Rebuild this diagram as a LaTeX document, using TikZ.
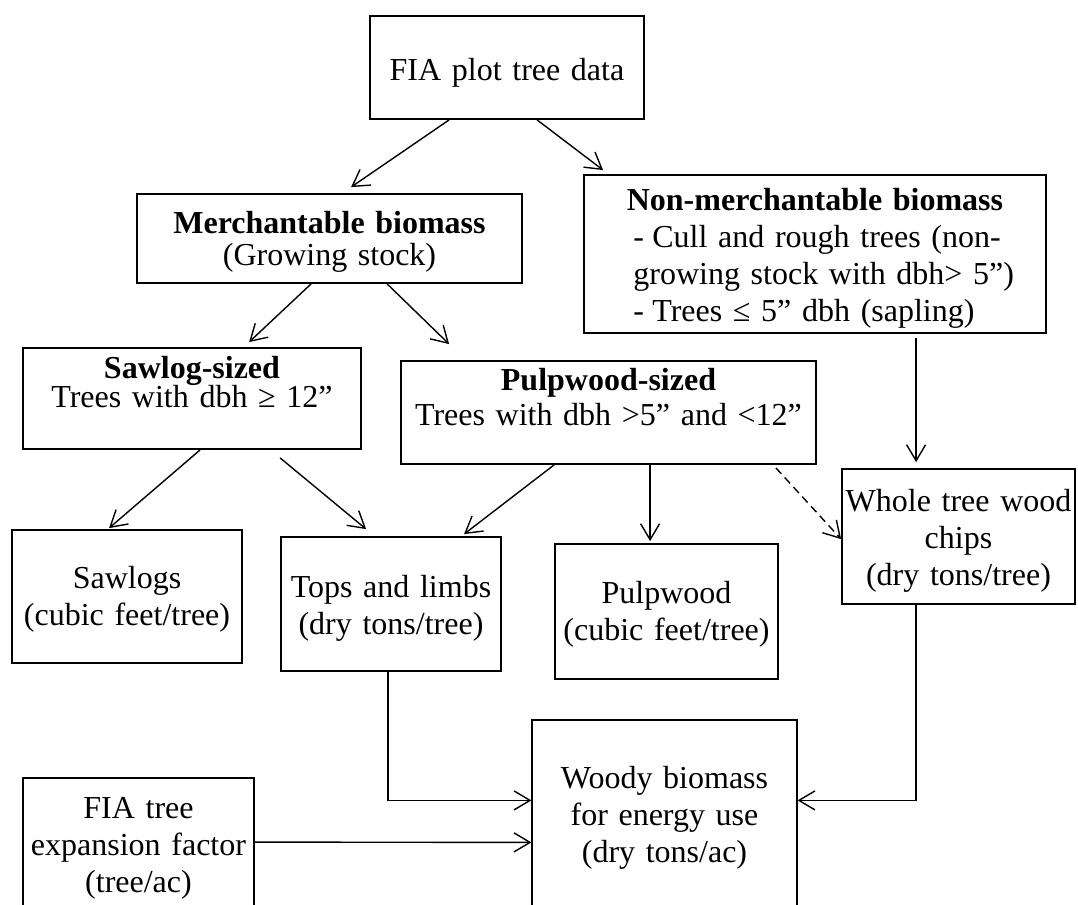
\documentclass[tikz,border=0pt]{standalone}
\usepackage{fontspec}
\setmainfont{Liberation Serif}
\usetikzlibrary{arrows.meta,calc,fit}
\begin{document}
\begin{tikzpicture}[x=0.5pt,y=-0.5pt,
  box/.style={draw,line width=0.9pt,inner sep=0pt,rectangle},
  thinbox/.style={box,line width=0.6pt},
  txt/.style={inner sep=0pt,anchor=base,align=center,font=\fontsize{16}{18.5}\selectfont},
  arr/.style={line width=0.7pt,-{Straight Barb[length=8pt,width=9.5pt]}},
  dasharr/.style={arr,dash pattern=on 4pt off 2.5pt}]
\useasboundingbox (0,0) rectangle (1078,905);
\clip (0,0) rectangle (1078,905);
\fill[white] (0,0) rectangle (1078,905);

% boxes
\node[box,fit={(370,16)(644,119)}] (fia) {};
\node[box,fit={(137,194)(522,283)}] (merch) {};
\node[box,fit={(584,175)(1046,333)}] (nonmerch) {};
\node[box,fit={(23,348)(361,449)}] (sawsize) {};
\node[box,fit={(401,361)(816,464)}] (pulpsize) {};
\node[box,fit={(12,530)(242,663)}] (sawlogs) {};
\node[box,fit={(281,537)(501,671)}] (tops) {};
\node[box,fit={(555,544)(778,679)}] (pulpwood) {};
\node[box,fit={(842,469)(1075,604)}] (whole) {};
\node[box,fit={(23,778)(254,960)}] (expansion) {};
\node[thinbox,fit={(532,720)(797,960)}] (woody) {};

% texts
\node[txt,text width=130pt] (t-fia) at (507,80) {FIA plot tree data};
\node[txt,text width=190pt] (t-merch) at (329.5,233) {\textbf{Merchantable biomass}\\[-2.5pt](Growing stock)};
\node[txt,text width=225pt] (t-nonmerch) at (815,210) {\textbf{Non-merchantable biomass}};
\node[txt,anchor=base west,align=left,text width=205pt] (t-nonlist) at (633,247)
  {\makebox[9.5pt][l]{-}Cull and rough trees (non-\\growing stock with dbh> 5”)\\\makebox[9.5pt][l]{-}Trees ≤ 5” dbh (sapling)};
\node[txt,text width=165pt] (t-sawsize) at (192,378) {\textbf{Sawlog-sized}\\[-4pt]Trees with dbh ≥ 12”};
\node[txt,text width=205pt] (t-pulpsize) at (608.5,390) {\textbf{Pulpwood-sized}\\[-1pt]Trees with dbh >5” and <12”};
\node[txt,text width=115pt] (t-sawlogs) at (127,588) {Sawlogs\\(cubic feet/tree)};
\node[txt,text width=110pt] (t-tops) at (391,597) {Tops and limbs\\(dry tons/tree)};
\node[txt,text width=110pt] (t-pulpwood) at (666.5,603) {Pulpwood\\(cubic feet/tree)};
\node[txt,text width=116pt] (t-whole) at (958.5,511) {Whole tree wood\\chips\\(dry tons/tree)};
\node[txt,text width=115pt] (t-exp) at (138.5,818) {FIA tree\\expansion factor\\(tree/ac)};
\node[txt,text width=132pt] (t-woody) at (664.5,788) {Woody biomass\\for energy use\\(dry tons/ac)};

% connectors
\draw[arr] ($(fia.south west)+(80,0)$) -- ($(merch.north west)+(215,-6)$);
\draw[arr] ($(fia.south west)+(168,0)$) -- ($(nonmerch.north west)+(20,-4)$);
\draw[arr] ($(merch.south west)+(175,0)$) -- ($(sawsize.north west)+(227,-5)$);
\draw[arr] ($(merch.south west)+(251,0)$) -- ($(pulpsize.north west)+(49,-16)$);
\draw[arr] ($(sawsize.south west)+(178,0)$) -- ($(sawlogs.north west)+(98,-1)$);
\draw[arr] ($(sawsize.south west)+(258,8)$) -- ($(tops.north west)+(86,-7)$);
\draw[arr] ($(pulpsize.south west)+(154,0)$) -- ($(tops.north west)+(184,-2)$);
\draw[arr] ($(pulpsize.south west)+(250,0)$) -- ($(pulpwood.north west)+(96,-2)$);
\draw[dasharr] ($(pulpsize.south east)+(-41,3)$) -- ($(whole.north west)+(0,71)$);
\draw[arr] ($(nonmerch.south west)+(333,4)$) -- ($(whole.north west)+(75,-6)$);
\draw[arr] ($(tops.south west)+(108,0)$) |- ($(woody.north west)+(0,81)$);
\draw[arr] ($(whole.south west)+(75,0)$) |- ($(woody.north east)+(0,81)$);
\draw[arr] ($(expansion.north east)+(0,65)$) -- ($(woody.north west)+(0,123)$);
\end{tikzpicture}
\end{document}
